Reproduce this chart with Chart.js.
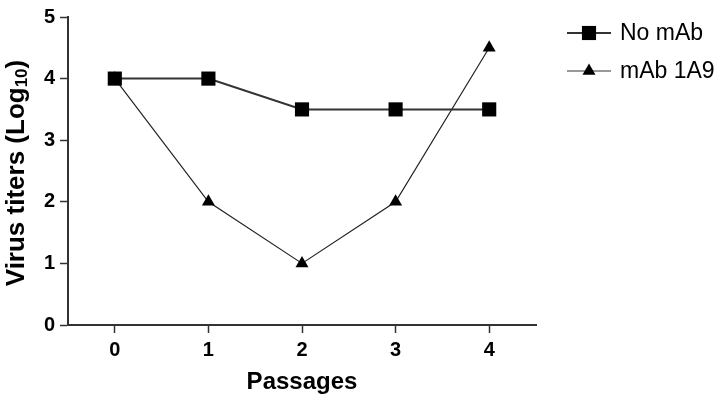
<!DOCTYPE html>
<html>
<head>
<meta charset="utf-8">
<script src="https://cdn.jsdelivr.net/npm/chart.js@4/dist/chart.umd.min.js"></script>
<style>
html,body{margin:0;padding:0;background:#fff;}
#wrap{width:728px;height:402px;}
</style>
</head>
<body>
<div id="wrap"><canvas id="c" width="728" height="402"></canvas></div>
<script>
const passages = ['0', '1', '2', '3', '4'];
const noMab = [4, 4, 3.5, 3.5, 3.5];
const mab1A9 = [4, 2, 1, 2, 4.5];
const seriesNames = ['No mAb', 'mAb 1A9'];
const yTitleMain = 'Virus titers (Log';
const yTitleSub = '10';
const xTitle = 'Passages';

const FONT = '"Liberation Sans", Arial, sans-serif';

const customPlugin = {
  id: 'custom',
  afterDraw(chart) {
    const ctx = chart.ctx;
    const area = chart.chartArea;
    // Y title with subscript
    ctx.save();
    ctx.fillStyle = '#000';
    ctx.textBaseline = 'alphabetic';
    const mainFont = 'bold 26px ' + FONT;
    const subFont = 'bold 17px ' + FONT;
    ctx.font = mainFont;
    const w1 = ctx.measureText(yTitleMain).width;
    ctx.font = subFont;
    const w2 = ctx.measureText(yTitleSub).width;
    ctx.font = mainFont;
    const w3 = ctx.measureText(')').width;
    const total = w1 + w2 + w3;
    const cy = (area.top + area.bottom) / 2 + 2, cx = 24;
    ctx.translate(cx, cy);
    ctx.rotate(-Math.PI / 2);
    let x = -total / 2;
    ctx.font = mainFont;
    ctx.textAlign = 'left';
    ctx.fillText(yTitleMain, x, 0);
    x += w1;
    ctx.font = subFont;
    ctx.fillText(yTitleSub, x, 3);
    x += w2;
    ctx.font = mainFont;
    ctx.fillText(')', x, 0);
    ctx.restore();

    // Legend
    ctx.save();
    const rows = [33, 71];
    chart.data.datasets.forEach((ds, i) => {
      const y = rows[i];
      ctx.strokeStyle = '#333';
      ctx.lineWidth = ds.borderWidth;
      ctx.beginPath();
      ctx.moveTo(567, y);
      ctx.lineTo(611, y);
      ctx.stroke();
      ctx.fillStyle = '#000';
      Chart.helpers.drawPoint(ctx, {pointStyle: ds.pointStyle, rotation: 0, borderWidth: 0, radius: ds.pointRadius}, 589, y);
      ctx.fillStyle = '#000';
      ctx.font = '23px ' + FONT;
      ctx.textBaseline = 'middle';
      ctx.textAlign = 'left';
      ctx.fillText(ds.label, 620, y + 1);
    });
    ctx.restore();
  }
};

new Chart(document.getElementById('c'), {
  type: 'line',
  data: {
    labels: passages,
    datasets: [
      {
        label: seriesNames[0],
        data: noMab,
        borderColor: '#333',
        borderWidth: 2,
        pointStyle: 'rect',
        pointRadius: 10,
        pointHoverRadius: 10,
        pointBackgroundColor: '#000',
        pointBorderColor: '#000',
        pointBorderWidth: 0,
        tension: 0,
        fill: false
      },
      {
        label: seriesNames[1],
        data: mab1A9,
        borderColor: '#222',
        borderWidth: 1.2,
        pointStyle: 'triangle',
        pointRadius: 7.5,
        pointHoverRadius: 7.5,
        pointBackgroundColor: '#000',
        pointBorderColor: '#000',
        pointBorderWidth: 0,
        tension: 0,
        fill: false
      }
    ]
  },
  options: {
    responsive: false,
    animation: false,
    events: [],
    layout: {padding: {left: 0, top: 13, right: 192, bottom: 0}},
    plugins: {
      legend: {display: false},
      tooltip: {enabled: false}
    },
    scales: {
      x: {
        type: 'category',
        offset: true,
        afterFit(s) { s.height = 77; },
        grid: {
          offset: false,
          drawOnChartArea: false,
          drawTicks: true,
          tickLength: 8,
          tickWidth: 1.5,
          color: '#333'
        },
        border: {display: true, color: '#333', width: 2},
        ticks: {
          color: '#000',
          font: {family: FONT, size: 20, weight: 'bold'},
          padding: 5,
          maxRotation: 0
        },
        title: {
          display: true,
          text: xTitle,
          color: '#000',
          font: {family: FONT, size: 24, weight: 'bold'},
          padding: {top: 0, bottom: 5}
        }
      },
      y: {
        min: 0,
        max: 5,
        afterFit(s) { s.width = 68; },
        grid: {
          drawOnChartArea: false,
          drawTicks: true,
          tickLength: 8,
          tickWidth: 1.5,
          color: '#333'
        },
        border: {display: true, color: '#333', width: 2},
        ticks: {
          stepSize: 1,
          color: '#000',
          font: {family: FONT, size: 20, weight: 'bold'},
          padding: 5
        }
      }
    }
  },
  plugins: [customPlugin]
});
</script>
</body>
</html>
